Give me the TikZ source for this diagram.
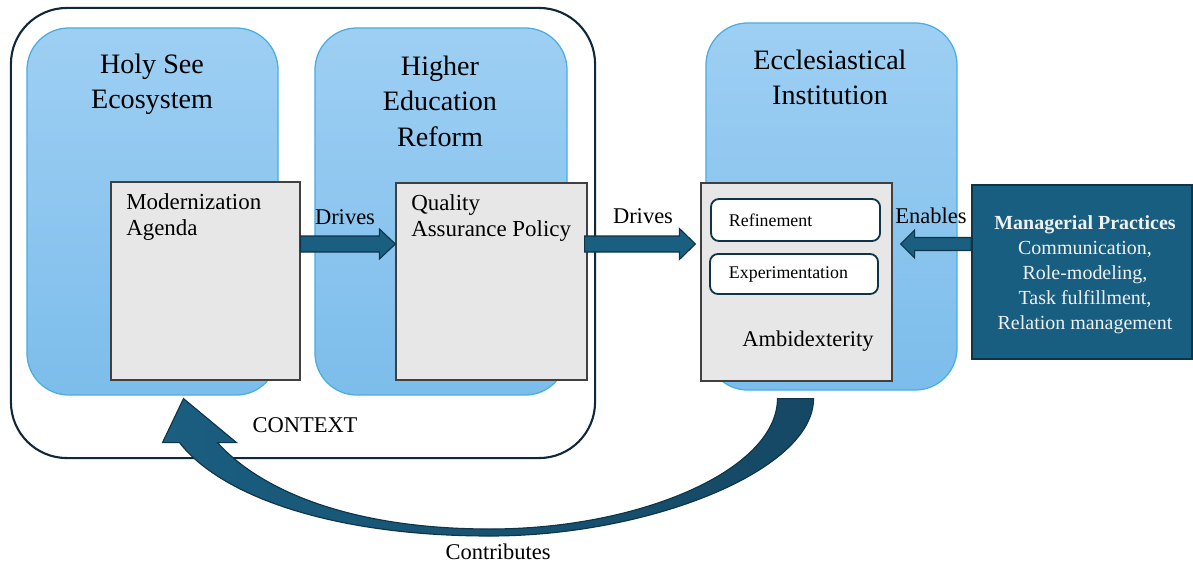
\documentclass[tikz,border=0pt]{standalone}
\usepackage{fontspec}
\setmainfont{Liberation Serif}
\usetikzlibrary{calc}

\definecolor{bluetop}{RGB}{158,207,243}
\definecolor{bluebot}{RGB}{124,189,235}
\definecolor{blueedge}{RGB}{74,174,223}
\definecolor{greyfill}{RGB}{231,231,231}
\definecolor{greyedge}{RGB}{64,64,64}
\definecolor{arrowfill}{RGB}{26,94,128}
\definecolor{arrowedge}{RGB}{14,52,72}
\definecolor{tailfill}{RGB}{21,72,100}
\definecolor{ctxedge}{RGB}{16,40,56}
\definecolor{mgrfill}{RGB}{24,94,128}

% straight block arrow: start, tip, shaft half-width, head half-width, signed head length
\newcommand\blockarrow[5]{%
  \draw[fatarrow] ($(#1)+(0,-#3)$) -- ($(#2)+(#5,-#3)$) -- ($(#2)+(#5,-#4)$) -- (#2)
    -- ($(#2)+(#5,#4)$) -- ($(#2)+(#5,#3)$) -- ($(#1)+(0,#3)$) -- cycle;}

\tikzset{
  ctxbox/.style={draw=ctxedge, line width=1.5pt, fill=white, rounded corners=1.4cm,
    minimum width=14.6cm, minimum height=11.25cm, inner sep=0},
  panel/.style={draw=blueedge, line width=0.9pt, rounded corners=1.05cm,
    top color=bluetop, bottom color=bluebot,
    minimum width=6.275cm, minimum height=9.175cm, inner sep=0},
  title/.style={font=\fontsize{20}{25}\selectfont, align=center, anchor=north, inner sep=0},
  greybox/.style={draw=greyedge, line width=0.8pt, fill=greyfill, inner sep=0},
  boxtext/.style={font=\fontsize{16.3}{19}\selectfont, align=left, anchor=north west, inner sep=0},
  pill/.style={draw=arrowedge, line width=1.3pt, fill=white, rounded corners=0.2cm,
    inner ysep=0, align=left, font=\fontsize{12.7}{15}\selectfont},
  lbl/.style={font=\fontsize{16}{19}\selectfont, inner sep=0},
  fatarrow/.style={fill=arrowfill, draw=arrowedge, line width=0.8pt, line join=miter},
  curvearrow/.style={left color=arrowfill, right color=tailfill, draw=arrowedge, line width=0.8pt},
  mgrbox/.style={fill=mgrfill, draw=arrowedge, line width=1.2pt,
    minimum width=5.5cm, minimum height=4.35cm, inner sep=0},
  mgrtext/.style={text=white!94!black, align=center, inner sep=0,
    font=\fontsize{14.2}{17.8}\selectfont}
}

\begin{document}
\begin{tikzpicture}[x=0.025cm, y=-0.025cm]
  \fill[white] (0,0) rectangle (1193,567);
  \useasboundingbox (0,0) rectangle (1193,567);

  % context frame
  \node[ctxbox] (ctx) at (303,233) {};
  \node[lbl] (ctxl) at (305,425) {CONTEXT};

  % blue panels
  \node[panel] (holy) at (152.5,211.5) {};
  \node[panel, minimum width=6.3cm] (higher) at (441,211.5) {};
  \node[panel] (eccl) at (831.5,206.5) {};
  \node[title] (holyt) at (152,54) {Holy See\\Ecosystem};
  \node[title] (highert) at (440,56) {Higher\\Education\\Reform};
  \node[title] (ecclt) at (830,50) {Ecclesiastical\\Institution};

  % grey content boxes
  \node[greybox, minimum width=4.725cm, minimum height=4.95cm] (mod) at (205.5,281) {};
  \node[greybox, minimum width=4.775cm, minimum height=4.925cm] (qual) at (491.5,281.5) {};
  \node[greybox, minimum width=4.775cm, minimum height=4.95cm] (amb) at (796.5,282) {};
  \node[boxtext] (modt) at (126,193) {Modernization\\Agenda};
  \node[boxtext] (qualt) at (411,194) {Quality\\Assurance Policy};
  \node[pill, inner xsep=0.45cm, text width=3.325cm, minimum height=1.05cm] (ref) at (795.5,220) {Refinement};
  \node[pill, inner xsep=0.475cm, text width=3.25cm, minimum height=1.0cm] (exp) at (794,274) {Experimentation};
  \node[lbl] (ambt) at (808,341) {Ambidexterity};

  % managerial practices
  \node[mgrbox] (mgr) at (1082,272) {};
  \node[mgrtext] (mgrt) at (1085,275) {\textbf{Managerial Practices}\\Communication,\\Role-modeling,\\Task fulfillment,\\Relation management};

  % straight connectors
  \coordinate (a1s) at (mod.east |- 0,244);
  \coordinate (a1e) at (qual.west |- 0,244);
  \coordinate (a2s) at ($(qual.east |- 0,244)+(-3,0)$);
  \coordinate (a2e) at ($(amb.west |- 0,244)+(-5,0)$);
  \coordinate (a3s) at (mgr.west |- 0,244);
  \coordinate (a3e) at ($(amb.east |- 0,244)+(8,0)$);
  \blockarrow{a1s}{a1e}{8}{15}{-16}
  \blockarrow{a2s}{a2e}{8}{15.5}{-16}
  \blockarrow{a3s}{a3e}{6.5}{14}{14}
  \node[lbl] (d1) at (345,217) {Drives};
  \node[lbl] (d2) at (643,216) {Drives};
  \node[lbl] (en) at (931,216) {Enables};

  % curved feedback connector
  \coordinate (ctail) at ($(amb.south)+(0,17)$);
  \coordinate (chead) at ($(mod.south)+(-22,18)$);
  \draw[curvearrow] (chead) -- ($(chead)+(53,44)$) -- ($(chead)+(34,44)$)
    .. controls (260,490) and (350,529) .. (490,529)
    .. controls (640,529) and (777,470) .. ($(ctail)+(-19,0)$)
    -- ($(ctail)+(17,0)$)
    .. controls (814,470) and (650,536) .. (490,536)
    .. controls (330,536) and (220,495) .. ($(chead)+(-4,44)$)
    -- ($(chead)+(-21,44)$) -- cycle;
  \node[lbl] (contr) at (498,552) {Contributes};
\end{tikzpicture}
\end{document}
